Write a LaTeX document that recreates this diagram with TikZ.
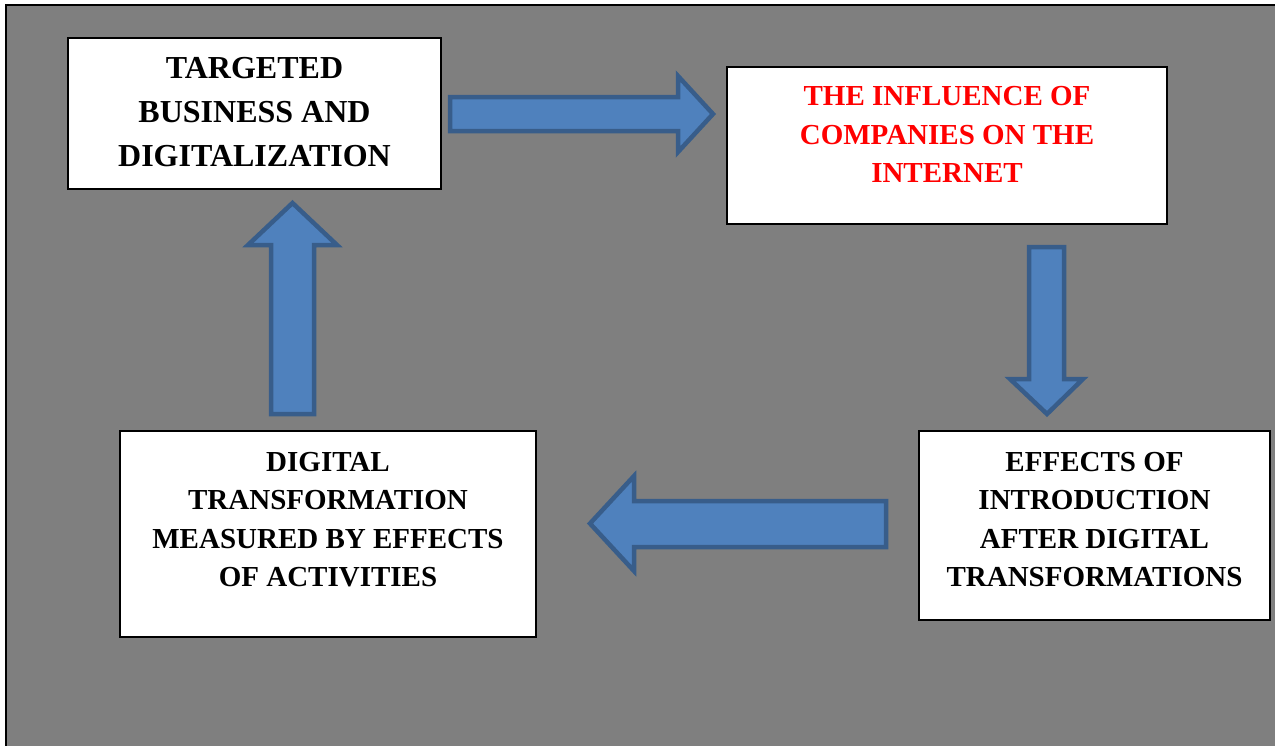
\documentclass[tikz,border=0pt]{standalone}
\usepackage{fontspec}
\setmainfont{Liberation Serif}
\definecolor{bgray}{HTML}{7F7F7F}
\definecolor{afill}{HTML}{4F81BD}
\definecolor{aline}{HTML}{385D8A}
\definecolor{tred}{HTML}{FF0000}
\tikzset{
  box/.style={draw=black, line width=2pt, fill=white, inner sep=0pt},
  label/.style={align=center, inner sep=0pt, font=\fontsize{29}{38.5}\selectfont\bfseries},
  biglabel/.style={align=center, inner sep=0pt, font=\fontsize{32}{44}\selectfont\bfseries},
  blockarrow/.style={fill=afill, draw=aline, line width=4.5pt, line join=miter},
}
\begin{document}
\begin{tikzpicture}[x=1pt,y=-1pt]
\useasboundingbox (0,0) rectangle (1275,745);
\clip (0,0) rectangle (1275,745);
\fill[white] (0,0) rectangle (1275,745);
\draw[fill=bgray, draw=black, line width=2pt] (6,5) rectangle (1290,760);
% boxes
\node[box, minimum width=373pt, minimum height=151pt] (b1) at (254.5,113.5) {};
\node[box, minimum width=440pt, minimum height=157pt] (b2) at (947,145.5) {};
\node[box, minimum width=351pt, minimum height=189pt] (b3) at (1094.5,525.5) {};
\node[box, minimum width=416pt, minimum height=206pt] (b4) at (328,534) {};
% texts
\node[biglabel] (t1) at (254.5,112) {TARGETED\\BUSINESS AND\\DIGITALIZATION};
\node[label, text=tred] (t2) at (947,134.5) {THE INFLUENCE OF\\COMPANIES ON THE\\INTERNET};
\node[label] (t3) at (1094.5,519.5) {EFFECTS OF\\INTRODUCTION\\AFTER DIGITAL\\TRANSFORMATIONS};
\node[label] (t4) at (328,519.5) {DIGITAL\\TRANSFORMATION\\MEASURED BY EFFECTS\\OF ACTIVITIES};
% block arrows
\draw[blockarrow] (450,97) -- (678,97) -- (678,76) -- (713,114) -- (678,152) -- (678,131) -- (450,131) -- cycle;
\draw[blockarrow] (1029,247) -- (1064,247) -- (1064,379) -- (1083,379) -- (1047,414) -- (1010,379) -- (1029,379) -- cycle;
\draw[blockarrow] (886,501) -- (886,547) -- (634,547) -- (634,571) -- (590,523.5) -- (634,476) -- (634,501) -- cycle;
\draw[blockarrow] (271,414) -- (271,245) -- (248,245) -- (292.5,203) -- (337,245) -- (314,245) -- (314,414) -- cycle;
\end{tikzpicture}
\end{document}
